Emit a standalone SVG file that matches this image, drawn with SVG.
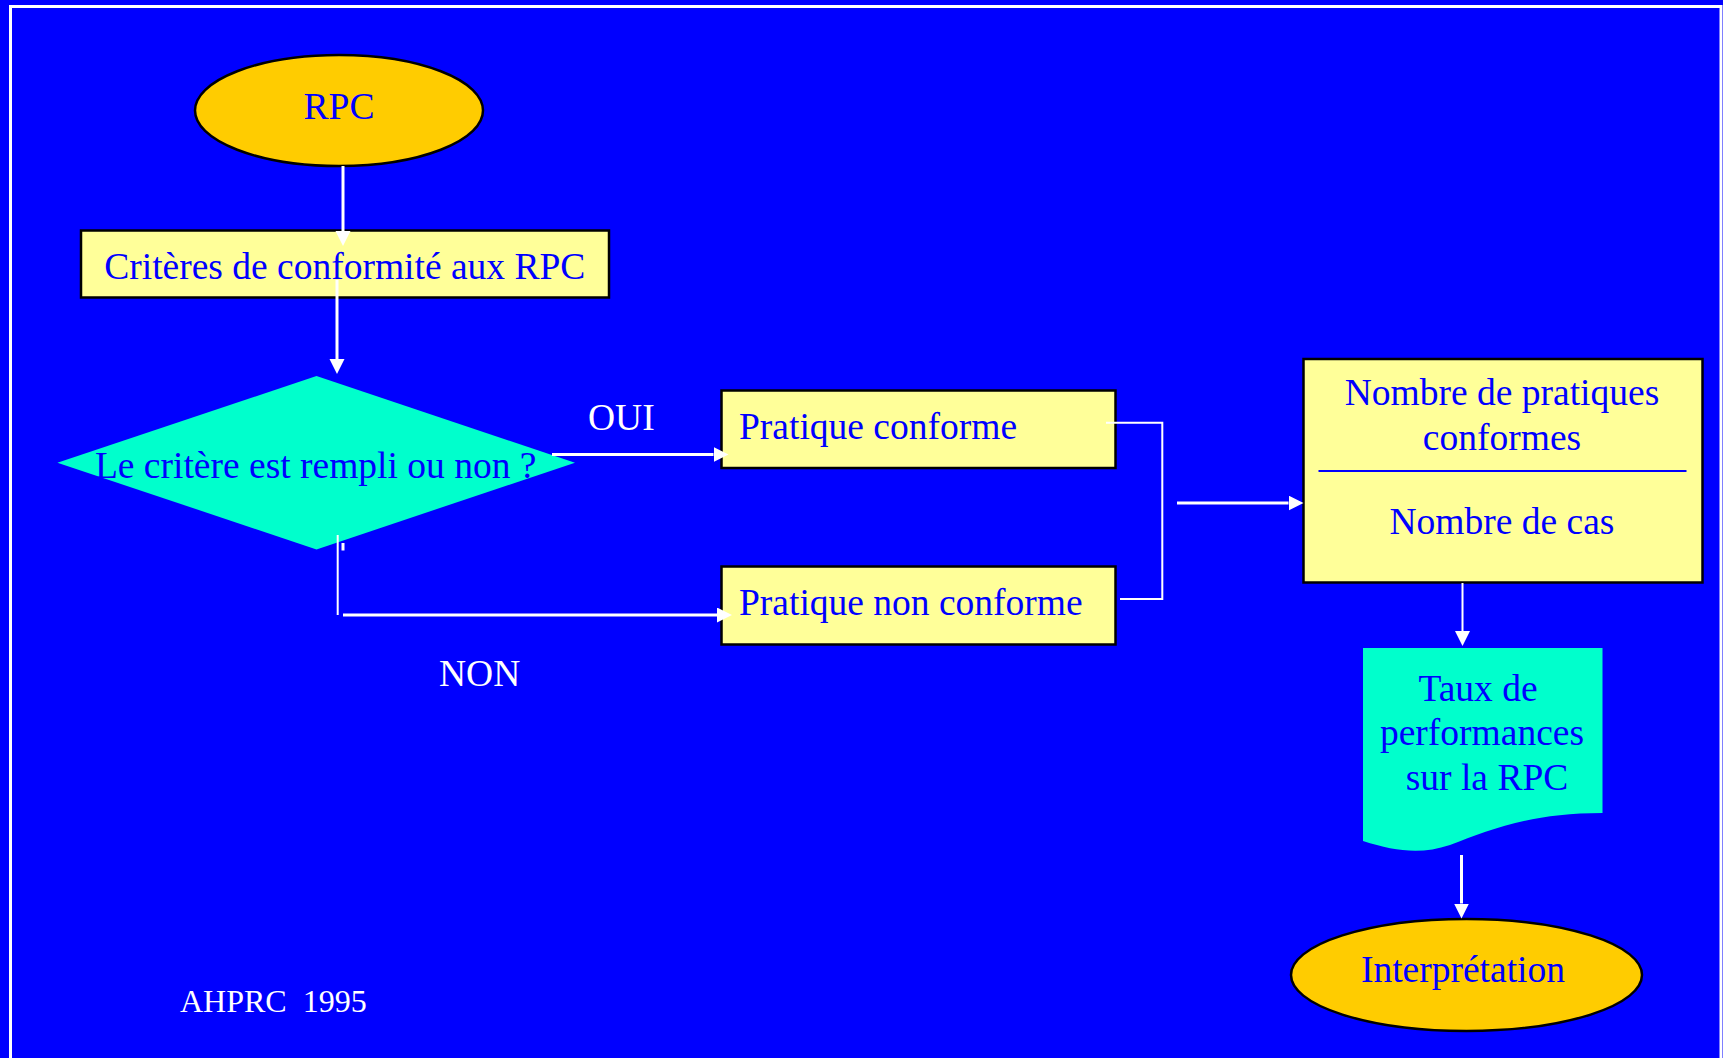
<svg xmlns="http://www.w3.org/2000/svg" width="1723" height="1058" viewBox="0 0 1723 1058">
  <style>
    .lbl { font-family: "Liberation Serif", "Times New Roman", serif; font-size: 37.5px; fill: #0000FF; }
    .wlbl { font-family: "Liberation Serif", "Times New Roman", serif; font-size: 37.5px; fill: #FFFFFF; }
    .box { fill: #FFFF99; stroke: #000000; stroke-width: 2.5; }
    .oval { fill: #FFCC00; stroke: #000000; stroke-width: 2.5; }
    .aqua { fill: #00FFCC; }
    .wire { fill: none; stroke: #FFFFFF; stroke-width: 3; }
    .thin { fill: none; stroke: #FFFFFF; stroke-width: 2; }
  </style>
  <defs>
    <marker id="head" markerUnits="userSpaceOnUse" markerWidth="16" markerHeight="16" viewBox="0 0 16 16" refX="0" refY="7.5" orient="auto">
      <path d="M0,0 L15,7.5 L0,15 z" fill="#FFFFFF"/>
    </marker>
  </defs>

  <!-- background and frame -->
  <rect x="0" y="0" width="1723" height="1058" fill="#0000FF"/>
  <rect x="10.5" y="6.5" width="1710.5" height="1100" fill="none" stroke="#FFFFFF" stroke-width="3"/>

  <!-- nodes -->
  <g id="rpc">
    <ellipse class="oval" cx="339" cy="110.5" rx="144" ry="55.5"/>
    <text class="lbl" x="339" y="118.5" text-anchor="middle">RPC</text>
  </g>

  <g id="criteres">
    <rect class="box" x="81" y="230.5" width="528" height="67"/>
  </g>

  <g id="decision">
    <polygon class="aqua" points="316.5,376 575,462.7 316.5,549.4 57.4,462.7"/>
  </g>

  <g id="conforme">
    <rect class="box" x="721.5" y="390.5" width="394" height="77.5"/>
    <text class="lbl" x="739" y="438.5">Pratique conforme</text>
  </g>

  <g id="non-conforme">
    <rect class="box" x="721.5" y="566.5" width="394" height="78"/>
    <text class="lbl" x="739" y="614.5">Pratique non conforme</text>
  </g>

  <g id="ratio">
    <rect class="box" x="1303.5" y="359" width="399" height="223.5"/>
    <line x1="1318.5" y1="471" x2="1686.5" y2="471" stroke="#0000FF" stroke-width="2"/>
    <text class="lbl" x="1502" y="404.5" text-anchor="middle">Nombre de pratiques</text>
    <text class="lbl" x="1502" y="449.5" text-anchor="middle">conformes</text>
    <text class="lbl" x="1502" y="533.5" text-anchor="middle">Nombre de cas</text>
  </g>

  <g id="taux">
    <path class="aqua" d="M1363,648 H1602.5 V813 C1530,813 1490,830 1450,845 C1420,855 1395,851 1363,841 Z"/>
    <text class="lbl" x="1478" y="701" text-anchor="middle">Taux de</text>
    <text class="lbl" x="1482" y="745" text-anchor="middle">performances</text>
    <text class="lbl" x="1487" y="789.5" text-anchor="middle">sur la RPC</text>
  </g>

  <g id="interpretation">
    <ellipse class="oval" cx="1466.5" cy="975" rx="175.5" ry="56"/>
    <text class="lbl" x="1463" y="981.5" text-anchor="middle">Interprétation</text>
  </g>

  <!-- connectors -->
  <g id="connectors">
    <line class="wire" x1="343" y1="166" x2="343" y2="231" marker-end="url(#head)"/>
    <line class="wire" x1="337" y1="280" x2="337" y2="359" marker-end="url(#head)"/>
    <line class="wire" x1="552" y1="454.5" x2="713.5" y2="454.5" marker-end="url(#head)"/>
    <line class="thin" x1="337.7" y1="535" x2="337.7" y2="615"/>
    <line x1="343" y1="543" x2="343" y2="550.5" stroke="#FFFFFF" stroke-width="3"/>
    <line class="wire" x1="343" y1="615" x2="717" y2="615" marker-end="url(#head)"/>
    <path class="thin" d="M1106,422.7 H1162.3 V599 H1120"/>
    <line class="wire" x1="1177" y1="503" x2="1288.5" y2="503" marker-end="url(#head)"/>
    <line class="thin" x1="1462.5" y1="583" x2="1462.5" y2="631" marker-end="url(#head)"/>
    <line class="wire" x1="1461.5" y1="855" x2="1461.5" y2="903.5" marker-end="url(#head)"/>
  </g>

  <!-- labels drawn over the connectors -->
  <text class="lbl" x="344.8" y="278.5" text-anchor="middle">Critères de conformité aux RPC</text>
  <text class="lbl" x="315.7" y="477.5" text-anchor="middle">Le critère est rempli ou non ?</text>
  <text class="wlbl" x="588" y="429.5">OUI</text>
  <text class="wlbl" x="439" y="685.5">NON</text>
  <text class="wlbl" x="180" y="1012" style="font-size:32px" xml:space="preserve">AHPRC  1995</text>
</svg>
